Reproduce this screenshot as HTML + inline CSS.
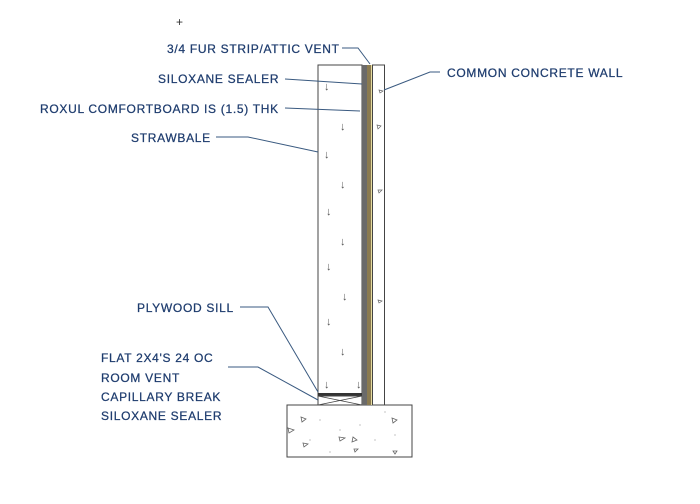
<!DOCTYPE html>
<html><head><style>
body{margin:0;background:#fff}
svg{display:block}
text{font-family:"Liberation Sans",sans-serif;font-size:12px;fill:#1e3c6e;letter-spacing:0.7px;stroke:#1e3c6e;stroke-width:0.25px}
.a{font-size:11px;fill:#555;stroke:none;letter-spacing:0}
</style></head><body>
<svg width="700" height="504" viewBox="0 0 700 504" xmlns="http://www.w3.org/2000/svg">
<rect width="700" height="504" fill="#fff"/>
<rect x="287" y="405" width="125" height="52" fill="#fff" stroke="#444" stroke-width="1"/>
<g fill="none" stroke="#666" stroke-width="0.8">
<path d="M301 417l5 2-4 3z M288 428l6 2-5 3z M303 443l5 1-4 3z M339 437l6 1-5 3z M353 437l4 3-5 2z M354 449l4 0-3 3z M392 418l5 2-4 3z M393 451l4 0-2 3z"/>
</g>
<g fill="#999">
<circle cx="320" cy="420" r=".6"/><circle cx="340" cy="430" r=".6"/><circle cx="360" cy="425" r=".6"/><circle cx="375" cy="440" r=".6"/><circle cx="310" cy="440" r=".6"/><circle cx="330" cy="452" r=".6"/><circle cx="395" cy="435" r=".6"/><circle cx="385" cy="412" r=".6"/>
</g>
<rect x="318" y="65" width="44" height="330" fill="#fff" stroke="#444" stroke-width="1"/>
<g>
<text class="a" x="324" y="90">↓</text><text class="a" x="340" y="130">↓</text><text class="a" x="324" y="158">↓</text><text class="a" x="340" y="188">↓</text><text class="a" x="326" y="215">↓</text><text class="a" x="340" y="245">↓</text><text class="a" x="326" y="270">↓</text><text class="a" x="342" y="300">↓</text><text class="a" x="326" y="325">↓</text><text class="a" x="340" y="355">↓</text><text class="a" x="324" y="388">↓</text><text class="a" x="356" y="388">↓</text>
</g>
<rect x="318" y="393" width="44" height="3" fill="#333"/>
<rect x="318" y="396" width="44" height="9" fill="#fff" stroke="#444" stroke-width="1"/>
<path d="M318 396L362 405M318 405L362 396" stroke="#444" stroke-width="0.8"/>
<rect x="362" y="65" width="5" height="340" fill="#6a6a6a"/>
<rect x="367" y="65" width="4" height="340" fill="#8a7a50"/>
<rect x="371" y="65" width="1.5" height="340" fill="#e6dca0"/>
<rect x="372.5" y="65" width="12" height="340" fill="#fff" stroke="#444" stroke-width="1"/>
<path d="M379 90l4 1-3 2z M377 125l4 1-3 3z M378 190l4 0-3 3z M378 300l4 1-3 2z" fill="none" stroke="#666" stroke-width=".7"/>
<g stroke="#3a5a80" stroke-width="1" fill="none">
<path d="M342 48H358L370 64"/>
<path d="M285 79L362 84"/>
<path d="M285 108L360 111"/>
<path d="M216 137H248L318 152"/>
<path d="M440 72H430L384 90"/>
<path d="M240 307H268L318 392"/>
<path d="M228 367H258L318 400"/>
</g>
<text x="167" y="53">3/4 FUR STRIP/ATTIC VENT</text>
<text x="158" y="83">SILOXANE SEALER</text>
<text x="40" y="113">ROXUL COMFORTBOARD IS (1.5) THK</text>
<text x="131" y="142">STRAWBALE</text>
<text x="447" y="77">COMMON CONCRETE WALL</text>
<text x="137" y="312">PLYWOOD SILL</text>
<text x="101" y="362">FLAT 2X4'S  24 OC</text>
<text x="101" y="382">ROOM VENT</text>
<text x="101" y="401">CAPILLARY BREAK</text>
<text x="101" y="420">SILOXANE SEALER</text>
<text x="176" y="26" style="font-size:12px;fill:#333;stroke:none">+</text>
</svg>
</body></html>
